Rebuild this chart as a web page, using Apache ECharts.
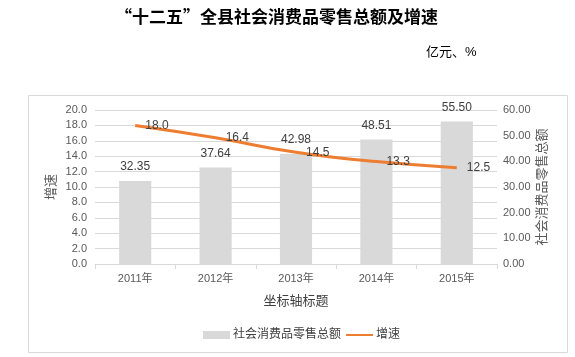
<!DOCTYPE html>
<html><head><meta charset="utf-8">
<script src="https://cdn.jsdelivr.net/npm/echarts@6/dist/echarts.min.js"></script>
<style>html,body{margin:0;padding:0;background:#fff}#c{width:575px;height:357px}</style>
</head><body><div id="c"></div>
<script>
const categories = ['2011年','2012年','2013年','2014年','2015年'];
const totalSales = [32.35, 37.64, 42.98, 48.51, 55.50];
const growth = [18.0, 16.4, 14.5, 13.3, 12.5];
const FONT = "'Liberation Sans','Noto Sans CJK SC',sans-serif";
const CJK = "'Noto Sans CJK SC',sans-serif";
const chart = echarts.init(document.getElementById('c'));
chart.setOption({
  animation:false,
  textStyle:{fontFamily:FONT},
  graphic:[
    {type:'rect',shape:{x:28.5,y:95.5,width:539,height:257},style:{fill:'none',stroke:'#d9d9d9',lineWidth:1},z:-1},
    {type:'text',left:426,top:46,style:{text:'亿元、%',fontSize:13,fill:'#000',fontFamily:FONT}}
  ],
  title:{text:'“十二五”全县社会消费品零售总额及增速',left:110,top:3,
    textStyle:{fontSize:17,fontWeight:'bold',color:'#000',fontFamily:CJK}},
  grid:{left:95,right:78,top:110,bottom:93},
  legend:{bottom:11,left:198,itemGap:4,itemWidth:27,itemHeight:8,
    textStyle:{fontSize:12,color:'#404040',fontFamily:FONT,padding:[0,0,0,-2]},
    data:[{name:'社会消费品零售总额',icon:'rect'},{name:'增速',itemStyle:{opacity:0}}]},
  xAxis:{type:'category',data:categories,
    name:'坐标轴标题',nameLocation:'middle',nameGap:31,nameMoveOverlap:false,
    nameTextStyle:{fontSize:13,color:'#404040'},
    axisLine:{lineStyle:{color:'#d9d9d9'}},
    axisTick:{show:true,length:5,lineStyle:{color:'#d9d9d9'}},
    axisLabel:{fontSize:11,color:'#595959',margin:9}},
  yAxis:[
    {type:'value',min:0,max:20,interval:2,name:'增速',nameLocation:'middle',nameGap:37,nameRotate:90,nameMoveOverlap:false,
      nameTextStyle:{fontSize:13,color:'#595959'},
      axisLabel:{formatter:v=>v.toFixed(1),fontSize:11,color:'#595959',margin:8},
      axisLine:{show:false},axisTick:{show:false},
      splitLine:{lineStyle:{color:'#d9d9d9'}}},
    {type:'value',min:0,max:60,interval:10,name:'社会消费品零售总额',nameLocation:'middle',nameGap:39,nameRotate:90,nameMoveOverlap:false,
      nameTextStyle:{fontSize:13,color:'#595959'},
      axisLabel:{formatter:v=>v.toFixed(2),fontSize:11,color:'#595959',margin:6},
      axisLine:{show:false},axisTick:{show:false},splitLine:{show:false}}
  ],
  series:[
    {name:'社会消费品零售总额',type:'bar',yAxisIndex:1,data:totalSales,barWidth:'40%',
      itemStyle:{color:'#d9d9d9'},
      label:{show:true,position:'top',distance:8,formatter:p=>p.value.toFixed(2),fontSize:12,color:'#404040'}},
    {name:'增速',type:'line',yAxisIndex:0,data:growth,smooth:true,symbol:'circle',symbolSize:0.1,showSymbol:true,
      lineStyle:{color:'#ed7d31',width:3},itemStyle:{color:'#ed7d31'},
      label:{show:true,position:'right',distance:10,formatter:p=>p.value.toFixed(1),fontSize:12,color:'#404040'}}
  ]
});
</script></body></html>
